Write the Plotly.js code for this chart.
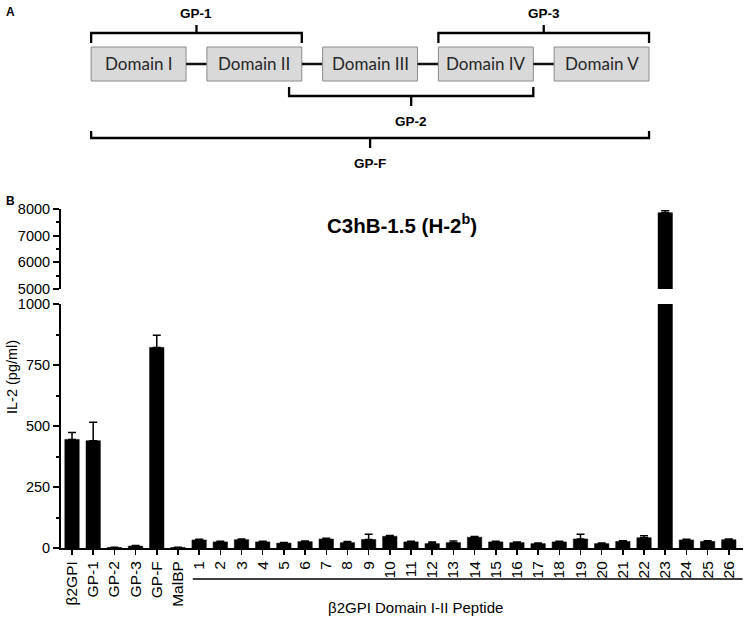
<!DOCTYPE html>
<html>
<head>
<meta charset="utf-8">
<script src="https://cdn.plot.ly/plotly-3.0.1.min.js"></script>
<style>html,body{margin:0;padding:0;background:#fff;}#chart{width:745px;height:618px;}</style>
</head>
<body>
<div id="chart"></div>
<script>
// ---------- Panel B data ----------
const controls = ["β2GPI", "GP-1", "GP-2", "GP-3", "GP-F", "MalBP"];
const peptides = ["1","2","3","4","5","6","7","8","9","10","11","12","13","14","15","16","17","18","19","20","21","22","23","24","25","26"];
const controlValues = [445, 440, 2, 8, 822, 2];
const controlErrors = [28, 75, 1, 2, 50, 1];
const peptideValues = [33, 25, 34, 25, 20, 26, 37, 22, 35, 48, 25, 18, 22, 44, 25, 22, 18, 25, 37, 18, 27, 42, 7860, 33, 27, 34];
const peptideErrors = [3, 3, 3, 3, 3, 3, 3, 5, 21, 3, 3, 7, 7, 3, 3, 3, 3, 3, 19, 3, 3, 8, 75, 3, 3, 3];
const lowerTicks = [0, 250, 500, 750, 1000];
const upperTicks = [5000, 6000, 7000, 8000];

// ---------- Panel A data ----------
const domainNames = ["Domain I", "Domain II", "Domain III", "Domain IV", "Domain V"];
const fragNames = ["GP-1", "GP-2", "GP-3", "GP-F"];
const fragStart = [-0.41, 1.30, 2.59, -0.41];   // in domain-index units
const fragEnd   = [ 1.41, 3.41, 4.41,  4.41];
const fragSide  = ["top", "bottom", "top", "bottom"];
const fragLevel = [0, 0, 0, 1];

const cats = controls.concat(peptides);
const vals = controlValues.concat(peptideValues);
const errs = controlErrors.concat(peptideErrors);
const zeros = vals.map(() => 0);

const W = 745, H = 618;
const py = p => 1 - p / H;
const FONT = "Liberation Sans, Arial, sans-serif";

function barTrace(yax) {
  return {
    type: "bar", x: cats, y: vals, yaxis: yax, xaxis: "x",
    marker: {color: "#000", line: {color: "#000", width: 0.5}},
    width: 0.68,
    error_y: {type: "data", symmetric: false, array: errs, arrayminus: zeros,
              color: "#000", thickness: 1.5, width: 4},
    hoverinfo: "x+y", showlegend: false
  };
}

const data = [barTrace("y"), barTrace("y2")];

const shapes = [];
const annotations = [];

// Panel A: domains
const boxHalf = 0.41;
const boxTop = 47, boxBot = 81, boxMid = 64;
domainNames.forEach((name, i) => {
  shapes.push({type: "rect", xref: "x3", yref: "paper",
    x0: i - boxHalf, x1: i + boxHalf, y0: py(boxBot), y1: py(boxTop),
    fillcolor: "#d9d9d9", line: {color: "#8a8a8a", width: 1}, layer: "above"});
  annotations.push({xref: "x3", yref: "paper", x: i, y: py(boxMid), text: name,
    showarrow: false, xanchor: "center", yanchor: "middle",
    font: {family: "Lato, Liberation Sans, sans-serif", size: 17, color: "#262626"}});
  if (i < domainNames.length - 1) {
    shapes.push({type: "line", xref: "x3", yref: "paper",
      x0: i + boxHalf, x1: i + 1 - boxHalf, y0: py(boxMid), y1: py(boxMid),
      line: {color: "#111", width: 2.5}});
  }
});

// brackets
fragNames.forEach((name, k) => {
  const x0 = fragStart[k], x1 = fragEnd[k], xm = (x0 + x1) / 2;
  let yLine, yEnd, yTip, yLab;
  if (fragSide[k] === "top") {
    yLine = 33; yEnd = 43; yTip = 25; yLab = 13;
  } else if (fragLevel[k] === 0) {
    yLine = 96; yEnd = 87; yTip = 106; yLab = 121;
  } else {
    yLine = 138; yEnd = 131; yTip = 148; yLab = 163;
  }
  const p = `M ${x0},${py(yEnd)} L ${x0},${py(yLine)} L ${x1},${py(yLine)} L ${x1},${py(yEnd)} M ${xm},${py(yLine)} L ${xm},${py(yTip)}`;
  shapes.push({type: "path", xref: "x3", yref: "paper", path: p,
    line: {color: "#000", width: 2.3}});
  annotations.push({xref: "x3", yref: "paper", x: xm, y: py(yLab), text: "<b>" + name + "</b>",
    showarrow: false, xanchor: "center", yanchor: "middle",
    font: {family: FONT, size: 13.5, color: "#000"}});
});

// Panel labels
annotations.push({xref: "paper", yref: "paper", x: 4 / W, y: py(12), text: "<b>A</b>",
  showarrow: false, xanchor: "left", yanchor: "middle", font: {family: FONT, size: 12, color: "#000"}});
annotations.push({xref: "paper", yref: "paper", x: 4 / W, y: py(201), text: "<b>B</b>",
  showarrow: false, xanchor: "left", yanchor: "middle", font: {family: FONT, size: 12, color: "#000"}});

// Panel B title
annotations.push({xref: "paper", yref: "paper", x: 402 / W, y: py(224),
  text: "<b>C3hB-1.5 (H-2<sup>b</sup>)</b>", showarrow: false, xanchor: "center", yanchor: "middle",
  font: {family: FONT, size: 20.5, color: "#000"}});

// y axis title
annotations.push({xref: "paper", yref: "paper", x: 12 / W, y: py(377), text: "IL-2 (pg/ml)",
  textangle: -90, showarrow: false, xanchor: "center", yanchor: "middle",
  font: {family: FONT, size: 14.5, color: "#000"}});

// peptide group underline + label
const gStart = controls.length, gEnd = cats.length - 1;
shapes.push({type: "line", xref: "x", yref: "paper", x0: gStart - 0.3, x1: gEnd + 0.65,
  y0: py(579), y1: py(579), line: {color: "#000", width: 1.5}});
annotations.push({xref: "paper", yref: "paper", x: 415 / W, y: py(607), text: "β2GPI Domain I-II Peptide",
  showarrow: false, xanchor: "center", yanchor: "middle", font: {family: FONT, size: 15, color: "#000"}});

const layout = {
  width: W, height: H,
  margin: {l: 0, r: 0, t: 0, b: 0, pad: 0},
  paper_bgcolor: "#fff", plot_bgcolor: "rgba(0,0,0,0)",
  showlegend: false,
  font: {family: FONT, color: "#000"},
  xaxis: {
    type: "category", domain: [61 / W, 743 / W], range: [-0.52, 31.67],
    anchor: "y", showline: true, linecolor: "#000", linewidth: 2,
    ticks: "outside", ticklen: 5, tickwidth: 1.5, tickcolor: "#000",
    tickangle: -90, dtick: 1, tickfont: {family: FONT, size: 15.5, color: "#000"},
    showgrid: false, zeroline: false, fixedrange: true
  },
  yaxis: {
    domain: [py(548), py(304)], range: [0, 1000], anchor: "x",
    tickmode: "array", tickvals: lowerTicks, ticktext: lowerTicks.map(String),
    ticks: "outside", ticklen: 6, tickwidth: 2, tickcolor: "#000",
    minor: {tickmode: "linear", tick0: 0, dtick: 125, ticks: "outside", ticklen: 3, tickwidth: 2, tickcolor: "#000"},
    showline: true, linecolor: "#000", linewidth: 2,
    showgrid: false, zeroline: false,
    tickfont: {family: FONT, size: 14.5, color: "#000"}, fixedrange: true
  },
  yaxis2: {
    domain: [py(289), py(209)], range: [5000, 8000], anchor: "x",
    tickmode: "array", tickvals: upperTicks, ticktext: upperTicks.map(String),
    ticks: "outside", ticklen: 6, tickwidth: 2, tickcolor: "#000",
    minor: {tickmode: "linear", tick0: 5000, dtick: 500, ticks: "outside", ticklen: 3, tickwidth: 2, tickcolor: "#000"},
    showline: true, linecolor: "#000", linewidth: 2,
    showgrid: false, zeroline: false,
    tickfont: {family: FONT, size: 14.5, color: "#000"}, fixedrange: true
  },
  xaxis3: {domain: [0, 1], range: [(0 - 138.6) / 115.75, (W - 138.6) / 115.75],
    anchor: "y3", visible: false, fixedrange: true},
  yaxis3: {domain: [0.7, 1], range: [0, 1], anchor: "x3", visible: false, fixedrange: true},
  shapes: shapes,
  annotations: annotations
};

Plotly.newPlot("chart", data, layout, {displayModeBar: false, staticPlot: true});
</script>
</body>
</html>
